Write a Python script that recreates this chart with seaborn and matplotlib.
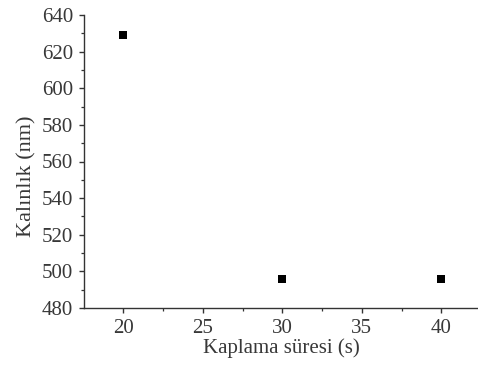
import matplotlib
matplotlib.use('Agg')
import matplotlib.pyplot as plt
import seaborn as sns
from matplotlib.ticker import MultipleLocator

# veriler
sure = [20, 30, 40]          # kaplama süresi (s)
kalinlik = [629, 496, 496]   # kalınlık (nm)

sns.set_style('ticks')
plt.rcParams['font.family'] = ['Liberation Serif', 'DejaVu Serif']

fig = plt.figure(figsize=(4.78, 3.69), dpi=100)
ax = fig.add_axes([84 / 478, 61 / 369, 394 / 478, 293 / 369])

sns.scatterplot(x=sure, y=kalinlik, marker='s', color='black', s=26,
                edgecolor='black', linewidth=0, ax=ax)

ax.set_xlim(17.53, 42.3)
ax.set_ylim(480, 640)
ax.xaxis.set_major_locator(MultipleLocator(5))
ax.xaxis.set_minor_locator(MultipleLocator(2.5))
ax.yaxis.set_major_locator(MultipleLocator(20))
ax.yaxis.set_minor_locator(MultipleLocator(10))

sns.despine(ax=ax)
for side in ['left', 'bottom']:
    ax.spines[side].set_linewidth(1.0)
    ax.spines[side].set_color('#333333')

ax.tick_params(which='major', length=3.8, width=1.0, color='#333333',
               labelsize=15, pad=4.2, labelcolor='#383838')
ax.tick_params(which='minor', length=2.2, width=0.9, color='#333333')

ax.set_xlabel('Kaplama süresi (s)', fontsize=15, color='#383838')
ax.set_ylabel('Kalınlık (nm)', fontsize=16, color='#383838')
ax.xaxis.set_label_coords(0.5, -0.105)
ax.yaxis.set_label_coords(-0.12, 0.45)

fig.savefig('out.png', dpi=100)
